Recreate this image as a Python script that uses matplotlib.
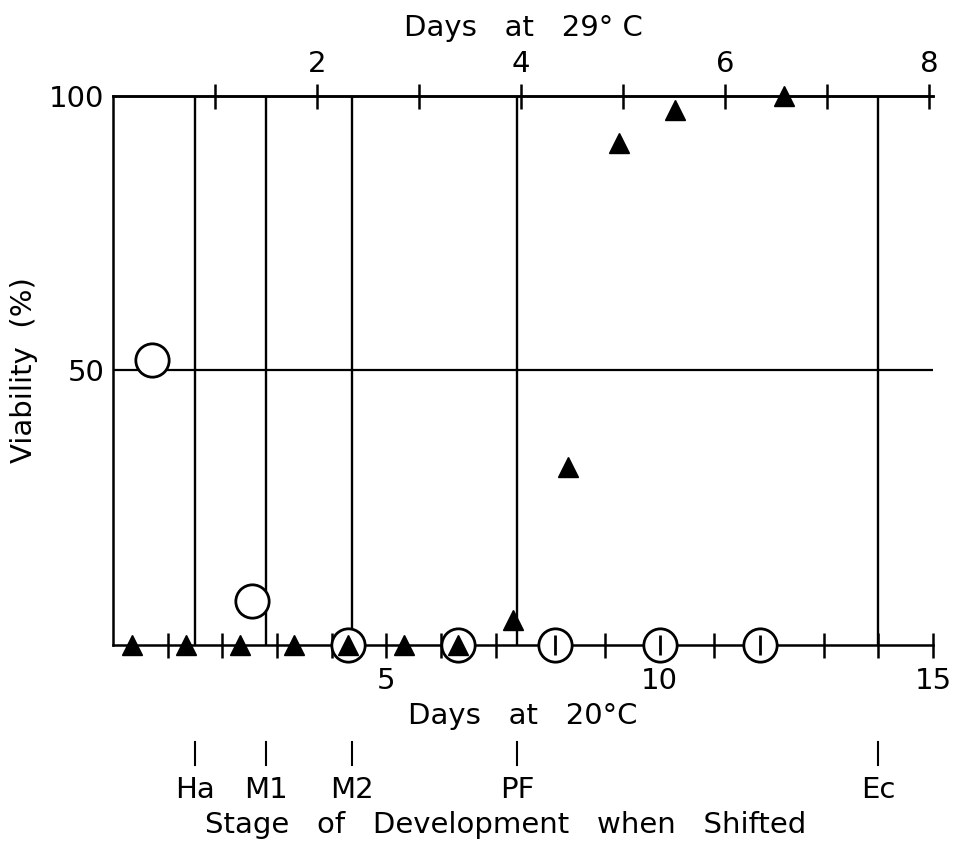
import numpy as np
import matplotlib
matplotlib.use("Agg")
import matplotlib.pyplot as plt
import matplotlib.transforms as mtransforms

# viability after shift (x in days at 20 C)
tri_days = [0.35, 1.34, 2.32, 3.31, 4.30, 5.32, 6.31, 7.32, 8.32, 9.26, 10.28, 12.27]
tri_viab = [0, 0, 0, 0, 0, 0, 0, 4.5, 32.5, 91.5, 97.5, 100]
circ_days = [0.71, 2.54, 4.30, 6.31, 8.08, 10.0, 11.83]
circ_viab = [52, 8, 0, 0, 0, 0, 0]
bar_days = [8.08, 10.0, 11.83]
bar_viab = [0, 0, 0]

stage_names = ["Ha", "M1", "M2", "PF", "Ec"]
stage_days = [1.5, 2.8, 4.37, 7.39, 14.0]

DAY_RATIO = 15 / 8.04  # days at 20C per day at 29C
FS = 21

plt.rcParams["font.family"] = "DejaVu Sans"
fig = plt.figure(figsize=(9.54, 8.51), dpi=100)
ax = fig.add_axes([0.1184, 0.2421, 0.8596, 0.6451])
ax.set_xlim(0, 15)
ax.set_ylim(0, 100)

lw = 1.8
for s in ("left", "top", "bottom"):
    ax.spines[s].set_linewidth(lw)
ax.spines["right"].set_visible(False)

ax.axhline(50, color="k", lw=1.6)
for d in stage_days:
    ax.axvline(d, color="k", lw=1.7)

ax.plot(circ_days, circ_viab, "o", ms=24, mfc="white", mec="k", mew=2,
        ls="none", clip_on=False, zorder=4)
ax.plot(bar_days, bar_viab, "|", ms=15, mec="k", mew=2, ls="none",
        clip_on=False, zorder=5)
ax.plot(tri_days, tri_viab, "^", ms=14, color="k", ls="none",
        clip_on=False, zorder=6)

ax.set_xticks([5, 10, 15])
ax.set_xticks(np.arange(1, 15), minor=True)
ax.set_yticks([50, 100])
ax.tick_params(axis="y", length=0, labelsize=FS, pad=6)
ax.tick_params(axis="x", which="both", direction="inout", length=18,
               width=1.8, labelsize=FS, pad=7)

top = ax.secondary_xaxis("top", functions=(lambda x: x / DAY_RATIO,
                                           lambda x: x * DAY_RATIO))
top.set_xticks([2, 4, 6, 8])
top.set_xticks([1, 3, 5, 7], minor=True)
top.tick_params(which="both", direction="inout", length=18, width=1.8,
                labelsize=FS, pad=4)
top.spines["top"].set_linewidth(lw)
top.set_xlabel("Days   at   29\u00b0 C", fontsize=FS, labelpad=10)

ax.set_xlabel("Days   at   20\u00b0C", fontsize=FS, labelpad=5)
ax.set_ylabel("Viability  (%)", fontsize=FS, labelpad=8)

# stage markers below the axis
trans = mtransforms.blended_transform_factory(ax.transData, ax.transAxes)
for name, d in zip(stage_names, stage_days):
    ax.plot([d, d], [-0.177, -0.218], color="k", lw=1.5, transform=trans,
            clip_on=False)
    ax.text(d, -0.264, name, transform=trans, ha="center", va="center",
            fontsize=FS)
fig.text(0.53, 0.03, "Stage   of   Development   when   Shifted",
         ha="center", va="center", fontsize=FS)

fig.savefig("out.png", dpi=100)
